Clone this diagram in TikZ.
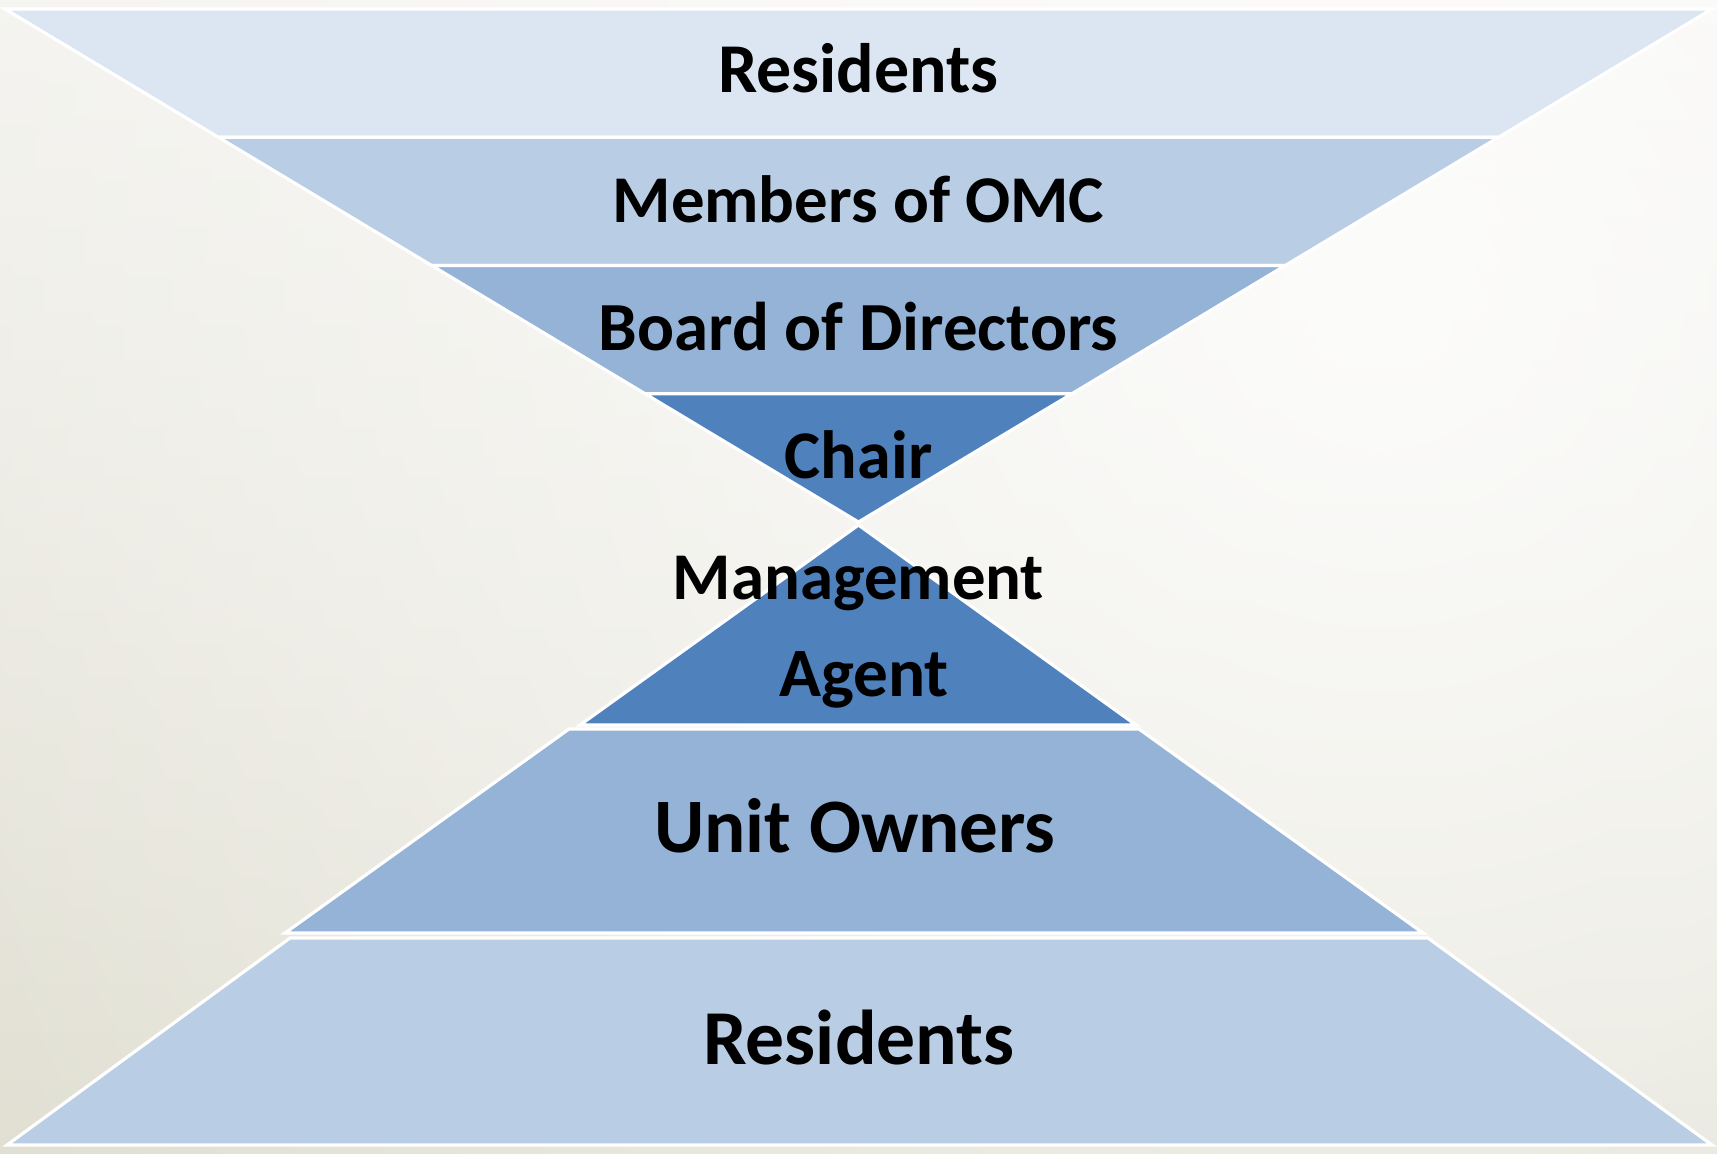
\documentclass[tikz,border=0pt]{standalone}
\usepackage{fontspec}
\setmainfont{Carlito}
\usetikzlibrary{calc,fadings}

\definecolor{bgtop}{HTML}{F1F0EB}
\definecolor{bgbot}{HTML}{DAD8C8}
\definecolor{tierA}{HTML}{DCE6F2}
\definecolor{tierB}{HTML}{B9CDE5}
\definecolor{tierC}{HTML}{95B3D7}
\definecolor{tierD}{HTML}{4F81BD}

\tikzfading[name=glowfade, inner color=transparent!0, outer color=transparent!100]

\newcommand{\lblsize}[1]{\bfseries\fontsize{#1}{#1}\selectfont}

\begin{document}
\begin{tikzpicture}[x=0.01cm, y=-0.01cm,
  band/.style={draw=white, line width=0.9pt, line join=miter},
  lbl/.style={anchor=base, inner sep=0pt, text=black}]

  % background: soft vertical gradient with a light glow on the upper right
  \useasboundingbox (0,0) rectangle (1717,1153);
  \shade[top color=bgtop, bottom color=bgbot] (0,0) rectangle (1717,1153);
  \begin{scope}
    \clip (0,0) rectangle (1717,1153);
    \fill[white, fill opacity=0.85, path fading=glowfade] (1380,300) circle (20.5cm);
  \end{scope}

  % inverted pyramid, four equal bands
  \coordinate (TL) at (5,9);
  \coordinate (TR) at (1712,9);
  \coordinate (TA) at (858.5,522);
  \foreach \k/\t in {1/0.25, 2/0.5, 3/0.75} {
    \coordinate (L\k) at ($(TL)!\t!(TA)$);
    \coordinate (R\k) at ($(TR)!\t!(TA)$);
  }
  \fill[band, fill=tierA] (TL) -- (TR) -- (R1) -- (L1) -- cycle;
  \fill[band, fill=tierB] (L1) -- (R1) -- (R2) -- (L2) -- cycle;
  \fill[band, fill=tierC] (L2) -- (R2) -- (R3) -- (L3) -- cycle;
  \fill[band, fill=tierD] (L3) -- (R3) -- (TA) -- cycle;

  % upright pyramid
  \fill[band, fill=tierD] (858.5,525) -- (1136,725) -- (580,725) -- cycle;
  \fill[band, fill=tierC] (569,729) -- (1139,729) -- (1423,933) -- (285,933) -- cycle;
  \fill[band, fill=tierB] (290,938) -- (1428,938) -- (1712,1145) -- (7,1145) -- cycle;

  % labels
  \node[lbl, font=\lblsize{19.9}] (res1) at (858.5,92) {Residents};
  \node[lbl, font=\lblsize{19}] (omc) at (858.5,222) {Members of OMC};
  \node[lbl, font=\lblsize{19.6}] (board) at (858.5,350) {Board of Directors};
  \node[lbl, font=\lblsize{19.4}] (chair) at (858.5,478) {Chair};
  \node[lbl, font=\lblsize{19}] (mgmt) at (858.5,599) {Management};
  \node[lbl, font=\lblsize{19.7}] (agent) at (864,696) {Agent};
  \node[lbl, font=\lblsize{21.9}] (owners) at (855,852) {Unit Owners};
  \node[lbl, font=\lblsize{22.1}] (res2) at (859,1064) {Residents};
\end{tikzpicture}
\end{document}
